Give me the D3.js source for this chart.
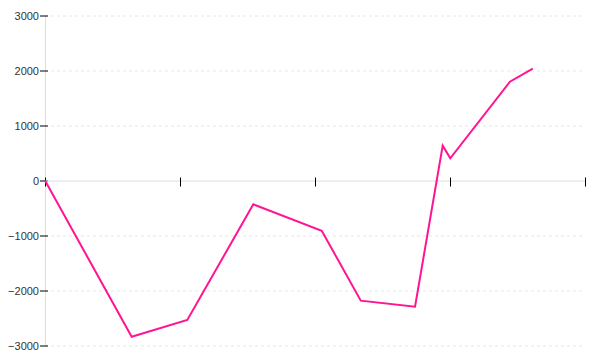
<!DOCTYPE html>
<html>
<head>
<meta charset="utf-8">
<script src="https://cdn.jsdelivr.net/npm/d3@7"></script>
<style>
  body { margin: 0; background: #fff; }
  text { font-family: "Liberation Sans", Arial, sans-serif; font-size: 11px; fill: #333; }
</style>
</head>
<body>
<div id="chart"></div>
<script>
// values
const xValues = [0, 6.42, 10.54, 15.43, 20.5, 23.39, 27.41, 29.46, 30.02, 34.44, 36.13];
const yValues = [0, -2840, -2536, -433, -913, -2185, -2295, 633, 404, 1796, 2033];
const yTicks = [-3000, -2000, -1000, 0, 1000, 2000, 3000];
const xTicks = [0, 10, 20, 30, 40];

const data = xValues.map((x, i) => ({ x: x, y: yValues[i] }));

const margin = { top: 15.5, right: 15, bottom: 14.5, left: 45 },
    width = 600 - margin.left - margin.right,
    height = 360 - margin.top - margin.bottom;

const svg = d3.select("#chart")
  .append("svg")
  .attr("width", 600)
  .attr("height", 360)
  .append("g")
  .attr("transform", `translate(${margin.left},${margin.top})`);

const x = d3.scaleLinear().domain([0, 40]).range([0, width]);
const y = d3.scaleLinear().domain([-3000, 3000]).range([height, 0]);

// dashed grid
svg.append("g")
  .selectAll("line")
  .data(yTicks.filter(d => d !== 0))
  .join("line")
  .attr("x1", 0)
  .attr("x2", width)
  .attr("y1", d => Math.round(y(d)) + 0.5)
  .attr("y2", d => Math.round(y(d)) + 0.5)
  .attr("stroke", "#e6e6e6")
  .attr("stroke-dasharray", "3,3");

// y axis
const yAxis = svg.append("g")
  .call(d3.axisLeft(y).tickValues(yTicks).tickSize(0).tickPadding(6).tickFormat(d3.format("d")));
yAxis.select(".domain").attr("stroke", "#ddd");
yAxis.selectAll(".tick line")
  .attr("x1", -5)
  .attr("x2", 3)
  .attr("stroke", "#000");

// x axis at zero
const xAxis = svg.append("g")
  .attr("transform", `translate(0,${Math.round(y(0))})`)
  .call(d3.axisBottom(x).tickValues(xTicks).tickSize(0).tickFormat(""));
xAxis.select(".domain").attr("stroke", "#ddd");
xAxis.selectAll(".tick line")
  .attr("y1", -3)
  .attr("y2", 6)
  .attr("stroke", "#000");

const line = d3.line()
  .x(d => x(d.x))
  .y(d => y(d.y));

svg.append("path")
  .datum(data)
  .attr("fill", "none")
  .attr("stroke", "#ff1493")
  .attr("stroke-width", 2)
  .attr("d", line);
</script>
</body>
</html>
